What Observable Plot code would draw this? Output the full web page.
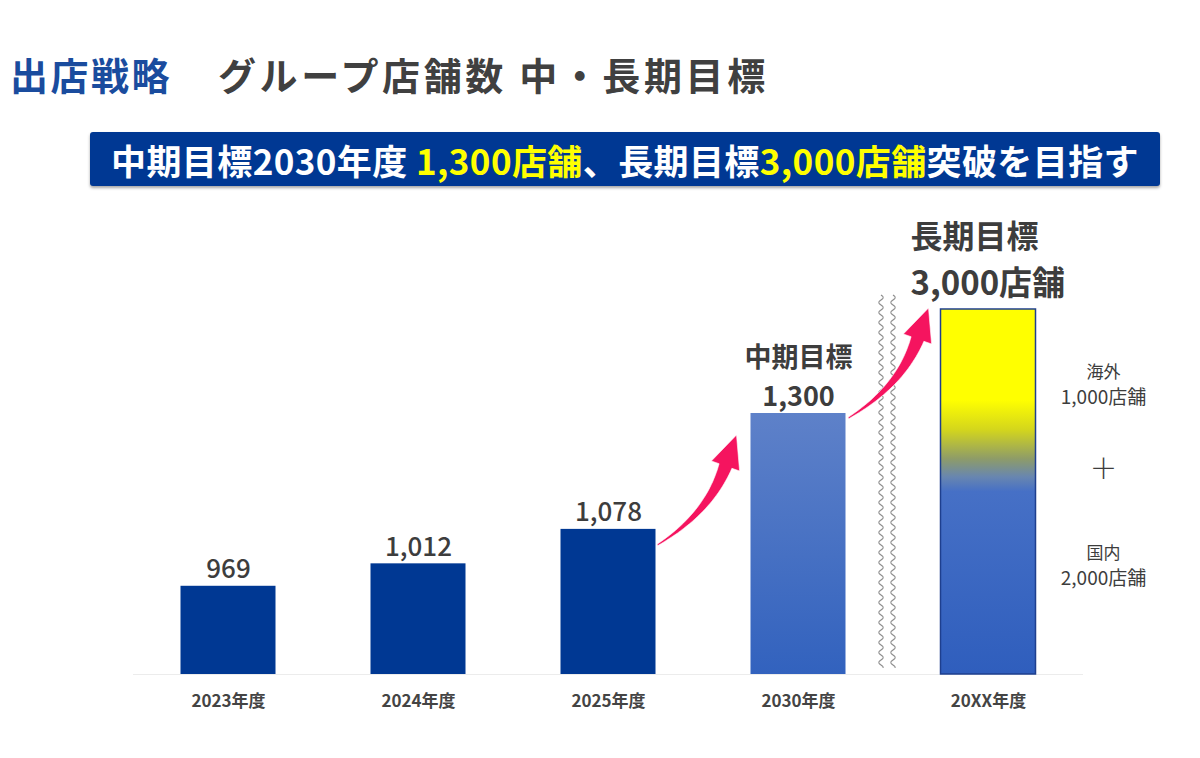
<!DOCTYPE html>
<html><head><meta charset="utf-8">
<script src="https://cdn.jsdelivr.net/npm/d3@7"></script>
<script src="https://cdn.jsdelivr.net/npm/@observablehq/plot@0.6"></script>
<style>
body{margin:0;background:#fff;font-family:"Noto Sans CJK JP","Noto Sans",sans-serif;}
#wrap{position:relative;width:1200px;height:758px;overflow:hidden;background:#fff;}
#title{position:absolute;left:10px;top:47px;font-size:38px;font-weight:700;line-height:54px;white-space:nowrap;}
#title .a{color:#1a4c9e;letter-spacing:2.5px;}
#title .b{color:#404040;position:absolute;left:208px;letter-spacing:3.6px;}
#banner{position:absolute;left:90px;top:132px;width:1070px;height:54px;background:#003893;border-radius:3px;box-shadow:0 2px 3px rgba(0,0,0,.35);color:#fff;font-weight:700;font-size:35px;letter-spacing:0.4px;display:flex;align-items:center;justify-content:center;white-space:nowrap;}
#banner .y{color:#ffff00;}
#chart{position:absolute;left:0;top:200px;}
</style></head>
<body><div id="wrap">
<div id="title"><span class="a">出店戦略</span><span class="b">グループ店舗数 中・長期目標</span></div>
<div id="banner"><span>中期目標2030年度&nbsp;<span class="y">1,300店舗</span>、長期目標<span class="y">3,000店舗</span>突破を目指す</span></div>
<div id="chart"></div>
</div>
<script>
// ---- data ----
const years = ["2023年度", "2024年度", "2025年度", "2030年度", "20XX年度"];
const stores = [969, 1012, 1078, 1300, 3000];
const kinds = ["actual", "actual", "actual", "mid", "long"];
const targetTitles = ["", "", "", "中期目標", "長期目標"];
const splitNames = ["海外", "国内"];
const splitStores = [1000, 2000];

const fmt = d3.format(",");
const data = years.map((year, i) => ({i, year, stores: stores[i], kind: kinds[i], title: targetTitles[i]}));
const actual = data.filter(d => d.kind === "actual");
const mid = data.filter(d => d.kind === "mid");
const long = data.filter(d => d.kind === "long");
const split = splitNames.map((name, k) => ({name, stores: splitStores[k]}));

const FONT = '"Noto Sans CJK JP","Noto Sans",sans-serif';
const TXT = "#3d3d3d";

// gradient definitions
const defsMark = () => {
  const defs = d3.create("svg:defs");
  const g1 = defs.append("linearGradient").attr("id", "gMid").attr("x1", 0).attr("y1", 0).attr("x2", 0).attr("y2", 1);
  g1.append("stop").attr("offset", "0").attr("stop-color", "#5e81c9");
  g1.append("stop").attr("offset", "1").attr("stop-color", "#3262be");
  const g2 = defs.append("linearGradient").attr("id", "gLong").attr("x1", 0).attr("y1", 0).attr("x2", 0).attr("y2", 1);
  [[0, "#ffff00"], [0.25, "#ffff00"], [0.33, "#d4d61c"], [0.41, "#8e9c68"], [0.46, "#6886b0"], [0.5, "#4670c6"], [1, "#2f5ebd"]]
    .forEach(([o, c]) => g2.append("stop").attr("offset", o).attr("stop-color", c));
  return defs.node();
};

// tapered curved arrow between two bars
function arrowPath(T, tip) {
  const N = [tip[0] - 11, tip[1] + 31];
  const hx = tip[0] - N[0], hy = tip[1] - N[1], hl = Math.hypot(hx, hy);
  const ux = hx / hl, uy = hy / hl;
  const C = [N[0] - ux * 50, N[1] - uy * 50];
  const left = [], right = [];
  const n = 30;
  for (let k = 0; k <= n; k++) {
    const t = k / n;
    const x = (1 - t) ** 2 * T[0] + 2 * (1 - t) * t * C[0] + t * t * N[0];
    const y = (1 - t) ** 2 * T[1] + 2 * (1 - t) * t * C[1] + t * t * N[1];
    const dx = 2 * (1 - t) * (C[0] - T[0]) + 2 * t * (N[0] - C[0]);
    const dy = 2 * (1 - t) * (C[1] - T[1]) + 2 * t * (N[1] - C[1]);
    const l = Math.hypot(dx, dy);
    const nx = -dy / l, ny = dx / l;
    const w = 0.8 + 6 * Math.pow(t, 1.2);
    left.push([x + nx * w, y + ny * w]);
    right.push([x - nx * w, y - ny * w]);
  }
  const px = -uy, py = ux, hw = 15;
  const pts = [...left, [N[0] + px * hw, N[1] + py * hw], tip, [N[0] - px * hw, N[1] - py * hw], ...right.reverse()];
  return "M" + pts.map(p => p[0].toFixed(1) + "," + p[1].toFixed(1)).join("L") + "Z";
}

const arrowsMark = (index, scales) => {
  const X = scales.x, Y = scales.y;
  const g = d3.create("svg:g");
  const a1 = arrowPath([X(2.25) + 2, Y(stores[2]) + 16], [X(2.75) - 14, Y(stores[3]) + 22]);
  const a2 = arrowPath([X(3.25) + 3, Y(stores[3]) + 5], [X(3.75) - 12, Y(stores[4]) - 1]);
  [a1, a2].forEach(d => g.append("path").attr("d", d).attr("fill", "#f5145f")
    .attr("stroke", "#ffffff").attr("stroke-width", 0.6));
  return g.node();
};

// axis break (wavy lines)
const breakMark = (index, scales) => {
  const X = scales.x, Y = scales.y;
  const g = d3.create("svg:g");
  const y0 = Y(stores[4]) - 14, y1 = Y(800) - 6;
  [X(3.5) - 12, X(3.5)].forEach(x0 => {
    let d = "";
    for (let y = y0; y <= y1; y += 1) {
      const x = x0 + 2.2 * Math.sin((y - y0) / 10 * 2 * Math.PI);
      d += (d ? "L" : "M") + x.toFixed(2) + "," + y.toFixed(2);
    }
    g.append("path").attr("d", d).attr("fill", "none").attr("stroke", "#8f8f8f").attr("stroke-width", 1.1);
  });
  return g.node();
};

const chart = Plot.plot({
  width: 1200,
  height: 558,
  marginLeft: 133,
  marginRight: 117,
  marginTop: 0,
  marginBottom: 84,
  style: {fontFamily: FONT, background: "transparent", overflow: "visible"},
  x: {type: "linear", domain: [-0.5, 4.5], axis: null},
  y: {type: "linear", domain: [800, 1300, 3000], range: [474, 213, 109], axis: null},
  marks: [
    defsMark,
    Plot.ruleY([800], {stroke: "#ececec", strokeWidth: 1}),
    Plot.rect(actual, {x1: d => d.i - 0.25, x2: d => d.i + 0.25, y1: () => 800, y2: "stores", fill: "#003893"}),
    Plot.rect(mid, {x1: d => d.i - 0.25, x2: d => d.i + 0.25, y1: () => 800, y2: "stores", fill: "url(#gMid)"}),
    Plot.rect(long, {x1: d => d.i - 0.25, x2: d => d.i + 0.25, y1: () => 800, y2: "stores", fill: "url(#gLong)", stroke: "#1e3f8e", strokeWidth: 1.5}),
    breakMark,
    arrowsMark,
    Plot.text(actual, {x: "i", y: "stores", text: d => fmt(d.stores), dy: -8, lineAnchor: "bottom", fontSize: 26, fontWeight: 500, fill: TXT}),
    Plot.text(mid, {x: "i", y: "stores", text: d => d.title, dy: -47, lineAnchor: "bottom", fontSize: 27, fontWeight: 700, fill: TXT}),
    Plot.text(mid, {x: "i", y: "stores", text: d => fmt(d.stores), dy: -8, lineAnchor: "bottom", fontSize: 27, fontWeight: 700, fill: TXT}),
    Plot.text(long, {x: "i", y: "stores", text: d => d.title, dx: -78, dy: -62, textAnchor: "start", lineAnchor: "bottom", fontSize: 32, fontWeight: 700, fill: TXT}),
    Plot.text(long, {x: "i", y: "stores", text: d => fmt(d.stores) + "店舗", dx: -78, dy: -15, textAnchor: "start", lineAnchor: "bottom", fontSize: 33, fontWeight: 700, fill: TXT}),
    Plot.text(long, {x: "i", y: "stores", text: () => split[0].name, dx: 115, dy: 63, fontSize: 17, fill: TXT}),
    Plot.text(long, {x: "i", y: "stores", text: () => fmt(split[0].stores) + "店舗", dx: 115, dy: 88, fontSize: 19, fill: TXT}),
    Plot.text(long, {x: "i", y: "stores", text: () => "＋", dx: 115, dy: 161, fontSize: 28, fontWeight: 300, fill: TXT}),
    Plot.text(long, {x: "i", y: "stores", text: () => split[1].name, dx: 115, dy: 244, fontSize: 17, fill: TXT}),
    Plot.text(long, {x: "i", y: "stores", text: () => fmt(split[1].stores) + "店舗", dx: 115, dy: 269, fontSize: 19, fill: TXT}),
    Plot.axisX({ticks: years.map((_, i) => i), tickFormat: i => years[i], tickSize: 0, tickPadding: 20, fontSize: 17, fontWeight: 700, color: "#444", label: null})
  ]
});
document.getElementById("chart").appendChild(chart);
</script>
</body></html>
